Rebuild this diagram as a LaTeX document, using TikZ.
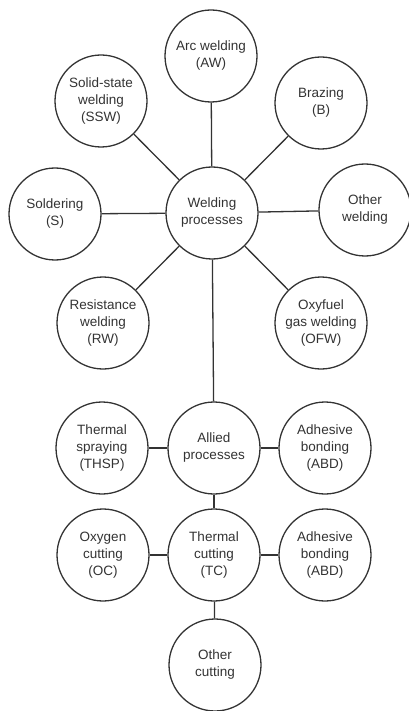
\documentclass[tikz,border=0pt]{standalone}
\usepackage{fontspec}
\setmainfont{Liberation Sans}
\tikzset{
  proc/.style={circle,draw=black!80,line width=1.3pt,minimum size=92pt,inner sep=0pt,
    align=center,text=black!80,font=\fontsize{13.5}{17}\selectfont},
  link/.style={draw=black!80,line width=1.3pt}
}
\begin{document}
\begin{tikzpicture}[x=1pt,y=-1pt]% une unité = un pixel de l'image
	\useasboundingbox (0,0) rectangle (408,711);
	\node[proc] (weld) at (212,213) {Welding\\processes};
	\node[proc] (aw)   at (211,56)  {Arc welding\\(AW)};
	\node[proc] (ssw)  at (101,101) {Solid-state\\welding\\(SSW)};
	\node[proc] (braz) at (321,103) {Brazing\\(B)};
	\node[proc] (sold) at (55,214)  {Soldering\\(S)};
	\node[proc] (othw) at (365,210) {Other\\welding};
	\node[proc] (rw)   at (103,323) {Resistance\\welding\\(RW)};
	\node[proc] (ofw)  at (321,323) {Oxyfuel\\gas welding\\(OFW)};
	
	\node[proc] (allied) at (214,448) {Allied\\processes};
	\node[proc] (thsp)   at (102,448) {Thermal\\spraying\\(THSP)};
	\node[proc] (abd)    at (325,448) {Adhesive\\bonding\\(ABD)};
	
	\node[proc] (tc)   at (214,555) {Thermal\\cutting\\(TC)};
	\node[proc] (oc)   at (103,555) {Oxygen\\cutting\\(OC)};
	\node[proc] (abdb) at (325,555) {Adhesive\\bonding\\(ABD)};
	\node[proc] (othc) at (215,665) {Other\\cutting};
	
	\foreach \n in {aw,ssw,braz,sold,othw,rw,ofw}{
		\draw[link] (weld)--(\n);}
	\draw[link] (weld)--(allied);
	\foreach \n in {thsp,abd,tc}{
		\draw[link] (allied)--(\n);}
	\foreach \n in {oc,abdb,othc}{
		\draw[link] (tc)--(\n);}
\end{tikzpicture}
\end{document}
